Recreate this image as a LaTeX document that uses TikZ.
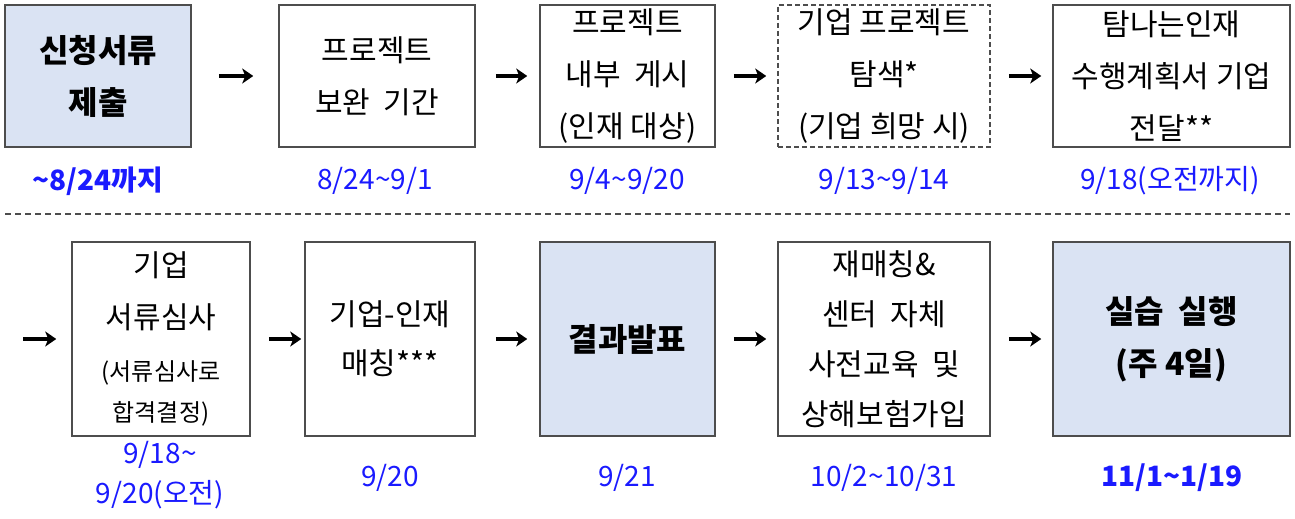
\documentclass[tikz,border=0pt]{standalone}
\usepackage{fontspec}
\setmainfont{Noto Sans CJK KR}
\usetikzlibrary{arrows.meta}
\definecolor{boxfill}{HTML}{DAE3F3}
\definecolor{boxline}{HTML}{4D4D4D}
\definecolor{datecol}{HTML}{1A1AFF}
\tikzstyle{box_plain} = [rectangle, draw=boxline, line width=1.5pt, inner sep=0pt, align=center, font=\fontsize{30}{52}\selectfont]
\tikzstyle{box_main} = [box_plain, fill=boxfill, font=\bfseries\fontsize{32}{52}\selectfont]
\tikzstyle{box_dash} = [box_plain, dash pattern=on 5pt off 3pt]
\tikzstyle{date_text} = [text=datecol, align=center, font=\fontsize{28}{40}\selectfont]
\tikzstyle{edge_flow} = [-{Stealth[length=11pt,width=15pt,inset=3pt]}, line width=3.8pt]

\begin{document}
\begin{tikzpicture}[x=1pt, y=-1pt]
\useasboundingbox (0,0) rectangle (1295,519);
% first row
\node (A) at (98,76) [box_main, minimum width=186pt, minimum height=142pt] {신청서류\\제출};
\node (B) at (377,76) [box_plain, minimum width=196pt, minimum height=142pt] {프로젝트\\보완~~기간};
\node (C) at (627.5,76) [box_plain, minimum width=175pt, minimum height=142pt] {프로젝트\\내부~~게시\\(인재 대상)};
\node (D) at (884,76) [box_dash, minimum width=212pt, minimum height=142pt] {기업 프로젝트\\탐색*\\(기업 희망 시)};
\node (E) at (1171.5,76) [box_plain, minimum width=237pt, minimum height=142pt] {탐나는인재\\수행계획서 기업\\전달**};
\node (dA) at (98,181) [date_text, font=\bfseries\fontsize{28}{40}\selectfont] {\textasciitilde8/24까지};
\node (dB) at (375,181) [date_text] {8/24\textasciitilde9/1};
\node (dC) at (627,181) [date_text] {9/4\textasciitilde9/20};
\node (dD) at (884,181) [date_text] {9/13\textasciitilde9/14};
\node (dE) at (1170,181) [date_text] {9/18(오전까지)};
\draw[edge_flow, shorten <=27pt, shorten >=25pt] (A)--(B);
\draw[edge_flow, shorten <=20pt, shorten >=12pt] (B)--(C);
\draw[edge_flow, shorten <=18pt, shorten >=11pt] (C)--(D);
\draw[edge_flow, shorten <=18pt, shorten >=11pt] (D)--(E);
% separator
\draw[boxline, line width=1.5pt, dash pattern=on 6pt off 4pt] (5,214) -- (1290,214);
% second row
\node (F) at (161,339) [box_plain, minimum width=178pt, minimum height=194pt] {기업\\서류심사\\{\fontsize{24}{41}\selectfont (서류심사로}\\[-11pt]{\fontsize{24}{41}\selectfont 합격결정)}};
\node (G) at (390,339) [box_plain, minimum width=170pt, minimum height=194pt, font=\fontsize{30}{49}\selectfont] {기업-인재\\매칭***};
\node (H) at (627.5,339) [box_main, minimum width=175pt, minimum height=194pt] {결과발표};
\node (I) at (884,339) [box_plain, minimum width=212pt, minimum height=194pt, font=\fontsize{30}{50}\selectfont] {재매칭\&\\센터~~자체\\사전교육~~및\\상해보험가입};
\node (J) at (1171.5,339) [box_main, minimum width=237pt, minimum height=194pt] {실습~~실행\\(주~4일)};
\coordinate (start2) at (23,339);
\node (dF) at (160,475) [date_text] {9/18\textasciitilde\\9/20(오전)};
\node (dG) at (390,478) [date_text] {9/20};
\node (dH) at (627,478) [date_text] {9/21};
\node (dI) at (884,478) [date_text] {10/2\textasciitilde10/31};
\node (dJ) at (1172,478) [date_text, font=\bfseries\fontsize{28}{40}\selectfont] {11/1\textasciitilde1/19};
\draw[edge_flow, shorten >=15pt] (start2)--(F);
\draw[edge_flow, shorten <=18pt, shorten >=3pt] (F)--(G);
\draw[edge_flow, shorten <=20pt, shorten >=12pt] (G)--(H);
\draw[edge_flow, shorten <=18pt, shorten >=11pt] (H)--(I);
\draw[edge_flow, shorten <=18pt, shorten >=11pt] (I)--(J);
\end{tikzpicture}
\end{document}
